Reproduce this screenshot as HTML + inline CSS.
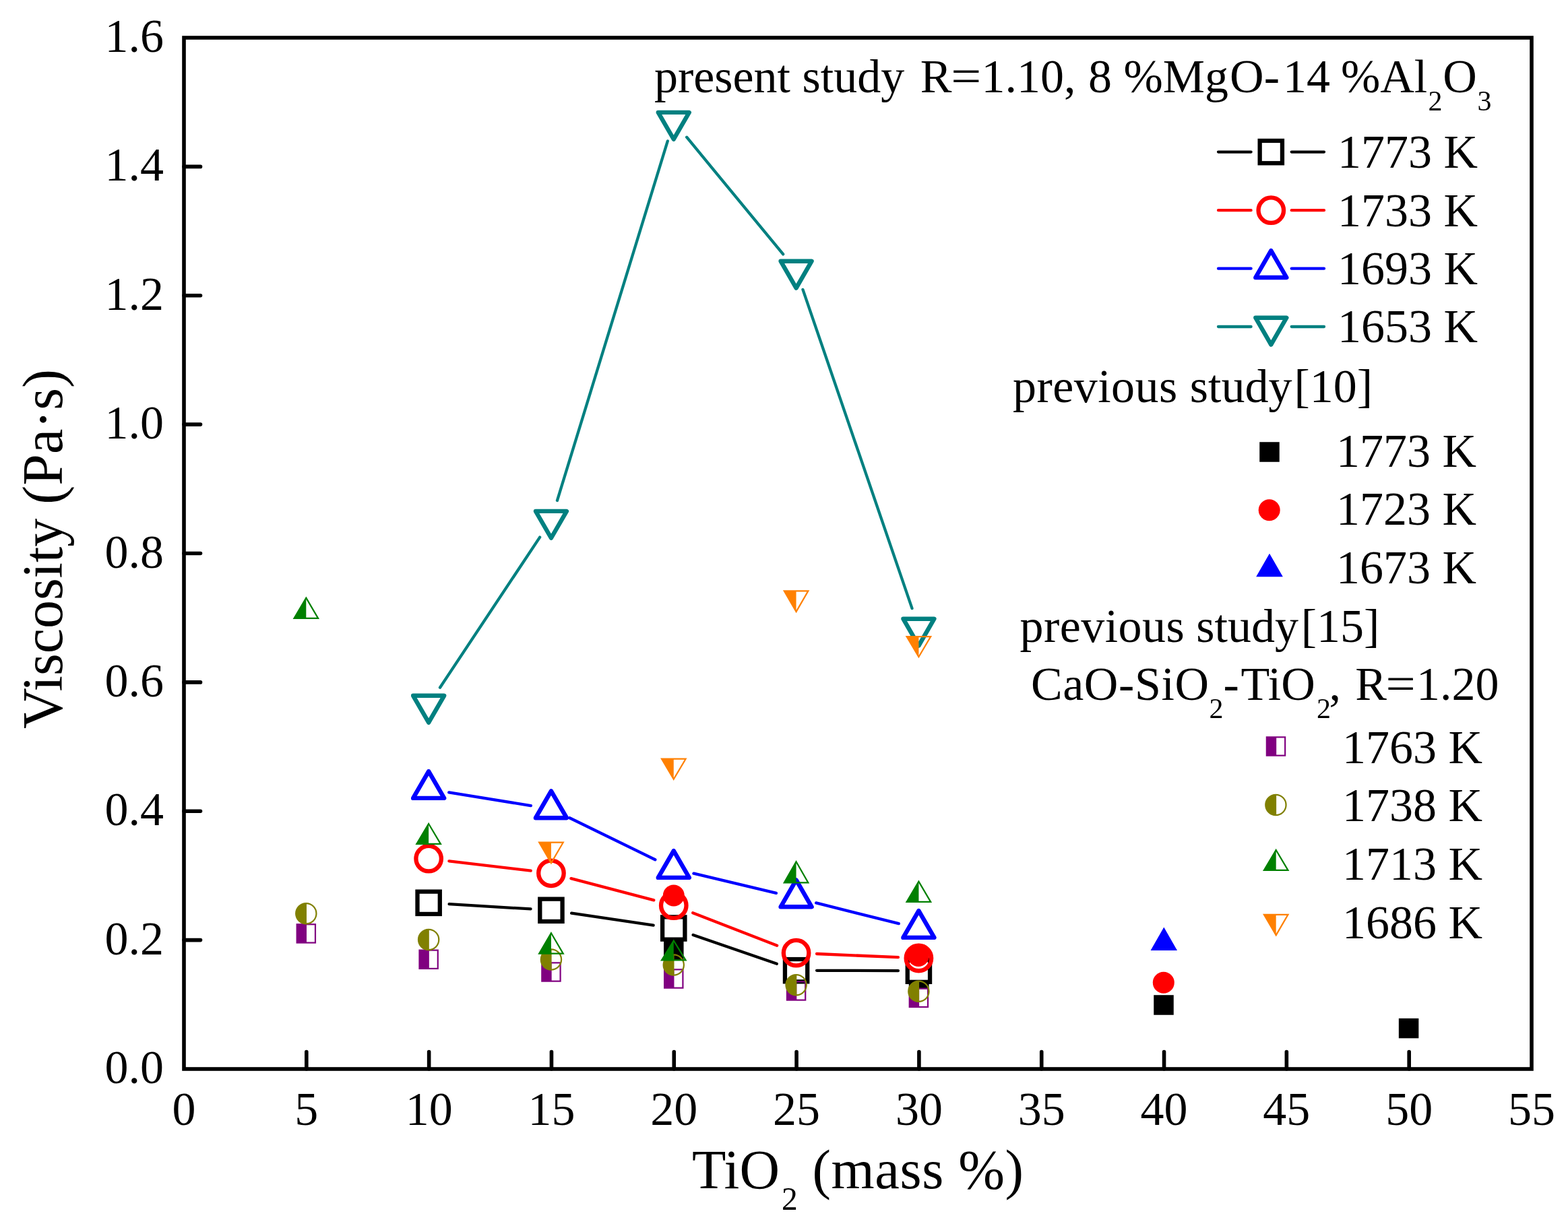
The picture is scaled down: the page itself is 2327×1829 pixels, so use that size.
<!DOCTYPE html><html><head><meta charset="utf-8"><title>Viscosity vs TiO2</title><style>html,body{margin:0;padding:0;background:#fff;overflow:hidden}svg{display:block}</style></head><body><svg width="2327" height="1829" viewBox="0 0 2327 1829" font-family="'Liberation Serif','Times New Roman',serif">
<rect width="2327" height="1829" fill="#ffffff"/>
<path d="M273 1395.62H297.5M273 1204.25H297.5M273 1012.88H297.5M273 821.5H297.5M273 630.12H297.5M273 438.75H297.5M273 247.38H297.5M454.82 1587V1561.5M636.64 1587V1561.5M818.45 1587V1561.5M1000.27 1587V1561.5M1182.09 1587V1561.5M1363.91 1587V1561.5M1545.73 1587V1561.5M1727.55 1587V1561.5M1909.36 1587V1561.5M2091.18 1587V1561.5" stroke="#000" stroke-width="5.6" stroke-linecap="round" fill="none"/>
<g font-size="70" fill="#000"><text x="243" y="1608" text-anchor="end">0.0</text><text x="243" y="1416.62" text-anchor="end">0.2</text><text x="243" y="1225.25" text-anchor="end">0.4</text><text x="243" y="1033.88" text-anchor="end">0.6</text><text x="243" y="842.5" text-anchor="end">0.8</text><text x="243" y="651.12" text-anchor="end">1.0</text><text x="243" y="459.75" text-anchor="end">1.2</text><text x="243" y="268.38" text-anchor="end">1.4</text><text x="243" y="77" text-anchor="end">1.6</text><text x="273" y="1670" text-anchor="middle">0</text><text x="454.82" y="1670" text-anchor="middle">5</text><text x="636.64" y="1670" text-anchor="middle">10</text><text x="818.45" y="1670" text-anchor="middle">15</text><text x="1000.27" y="1670" text-anchor="middle">20</text><text x="1182.09" y="1670" text-anchor="middle">25</text><text x="1363.91" y="1670" text-anchor="middle">30</text><text x="1545.73" y="1670" text-anchor="middle">35</text><text x="1727.55" y="1670" text-anchor="middle">40</text><text x="1909.36" y="1670" text-anchor="middle">45</text><text x="2091.18" y="1670" text-anchor="middle">50</text><text x="2273" y="1670" text-anchor="middle">55</text></g>
<text transform="translate(92.3 1082) rotate(-90)" font-size="84" fill="#000">Viscosity (Pa·s)</text>
<g font-size="82.5" fill="#000"><text x="1027" y="1764">TiO</text><text x="1160" y="1795.6" font-size="47.5">2</text><text x="1205.5" y="1764" letter-spacing="0.6">(mass %)</text></g>
<path d="M666.58 1342.14L787.51 1349.46 M848.13 1355.73L969.6 1373.57 M1028.61 1387.94L1152.76 1430.76 M1212.09 1440.78L1332.91 1441.12" stroke="#000000" stroke-width="4.3" fill="none" stroke-linecap="round"/>
<path d="M666.42 1278.3L787.67 1292.7 M847.45 1304.07L970.28 1336.43 M1028.21 1355.23L1153.15 1403.67 M1212.06 1416.01L1332.94 1421.19" stroke="#ff0000" stroke-width="4.3" fill="none" stroke-linecap="round"/>
<path d="M666.25 1176.45L787.84 1196.05 M845.37 1214.27L972.36 1276.23 M1029.44 1296.68L1151.92 1325.92 M1211.17 1340.42L1333.83 1371.18" stroke="#0000ff" stroke-width="4.3" fill="none" stroke-linecap="round"/>
<path d="M653 1020.69L801.09 797.61 M826.91 743.04L990.82 209.36 M1019.16 203.74L1162.2 377.46 M1191.47 429.86L1353.53 903.14" stroke="#008080" stroke-width="4.3" fill="none" stroke-linecap="round"/>
<rect x="619.49" y="1323.65" width="33.3" height="33.3" fill="none" stroke="#000000" stroke-width="6.3"/><rect x="801.3" y="1334.65" width="33.3" height="33.3" fill="none" stroke="#000000" stroke-width="6.3"/><rect x="983.12" y="1361.35" width="33.3" height="33.3" fill="none" stroke="#000000" stroke-width="6.3"/><rect x="1164.94" y="1424.05" width="33.3" height="33.3" fill="none" stroke="#000000" stroke-width="6.3"/><rect x="1346.76" y="1424.55" width="33.3" height="33.3" fill="none" stroke="#000000" stroke-width="6.3"/>
<circle cx="636.14" cy="1274.7" r="18.75" fill="none" stroke="#ff0000" stroke-width="6.3"/><circle cx="817.95" cy="1296.3" r="18.75" fill="none" stroke="#ff0000" stroke-width="6.3"/><circle cx="999.77" cy="1344.2" r="18.75" fill="none" stroke="#ff0000" stroke-width="6.3"/><circle cx="1181.59" cy="1414.7" r="18.75" fill="none" stroke="#ff0000" stroke-width="6.3"/><circle cx="1363.41" cy="1422.5" r="18.75" fill="none" stroke="#ff0000" stroke-width="6.3"/>
<path d="M636.14 1145.04 L659.14 1184.88 L613.14 1184.88Z" fill="none" stroke="#0000ff" stroke-width="6.4" stroke-linejoin="round"/><path d="M817.95 1174.34 L840.95 1214.18 L794.95 1214.18Z" fill="none" stroke="#0000ff" stroke-width="6.4" stroke-linejoin="round"/><path d="M999.77 1263.04 L1022.77 1302.88 L976.77 1302.88Z" fill="none" stroke="#0000ff" stroke-width="6.4" stroke-linejoin="round"/><path d="M1181.59 1306.44 L1204.59 1346.28 L1158.59 1346.28Z" fill="none" stroke="#0000ff" stroke-width="6.4" stroke-linejoin="round"/><path d="M1363.41 1352.04 L1386.41 1391.88 L1340.41 1391.88Z" fill="none" stroke="#0000ff" stroke-width="6.4" stroke-linejoin="round"/>
<path d="M636.14 1072.66 L659.14 1032.82 L613.14 1032.82Z" fill="none" stroke="#008080" stroke-width="6.4" stroke-linejoin="round"/><path d="M817.95 798.76 L840.95 758.92 L794.95 758.92Z" fill="none" stroke="#008080" stroke-width="6.4" stroke-linejoin="round"/><path d="M999.77 206.76 L1022.77 166.92 L976.77 166.92Z" fill="none" stroke="#008080" stroke-width="6.4" stroke-linejoin="round"/><path d="M1181.59 427.56 L1204.59 387.72 L1158.59 387.72Z" fill="none" stroke="#008080" stroke-width="6.4" stroke-linejoin="round"/><path d="M1363.41 958.56 L1386.41 918.72 L1340.41 918.72Z" fill="none" stroke="#008080" stroke-width="6.4" stroke-linejoin="round"/>
<rect x="985.05" y="1396.25" width="29.5" height="29.5" fill="#000000"/>
<rect x="1348.8" y="1459" width="29.8" height="8.5" fill="#000"/>
<rect x="1712.25" y="1477.25" width="29.5" height="29.5" fill="#000000"/>
<rect x="2075.85" y="1511.85" width="29.5" height="29.5" fill="#000000"/>
<circle cx="999.8" cy="1329.5" r="16" fill="#ff0000"/>
<circle cx="1363" cy="1419" r="16" fill="#ff0000"/>
<circle cx="1726.8" cy="1458.8" r="16" fill="#ff0000"/>
<path d="M1727.3 1376.4 L1747 1411 L1707.6 1411Z" fill="#0000ff"/>
<rect x="440.67" y="1372.25" width="14.35" height="27.3" fill="#800080"/><rect x="440.67" y="1372.25" width="27.3" height="27.3" fill="none" stroke="#800080" stroke-width="2.2"/><rect x="622.49" y="1410.65" width="14.35" height="27.3" fill="#800080"/><rect x="622.49" y="1410.65" width="27.3" height="27.3" fill="none" stroke="#800080" stroke-width="2.2"/><rect x="804.3" y="1429.35" width="14.35" height="27.3" fill="#800080"/><rect x="804.3" y="1429.35" width="27.3" height="27.3" fill="none" stroke="#800080" stroke-width="2.2"/><rect x="986.12" y="1439.35" width="14.35" height="27.3" fill="#800080"/><rect x="986.12" y="1439.35" width="27.3" height="27.3" fill="none" stroke="#800080" stroke-width="2.2"/><rect x="1167.94" y="1457.35" width="14.35" height="27.3" fill="#800080"/><rect x="1167.94" y="1457.35" width="27.3" height="27.3" fill="none" stroke="#800080" stroke-width="2.2"/><rect x="1349.76" y="1467.65" width="14.35" height="27.3" fill="#800080"/><rect x="1349.76" y="1467.65" width="27.3" height="27.3" fill="none" stroke="#800080" stroke-width="2.2"/>
<path d="M455.02 1341.07 A15.15 15.15 0 1 0 455.02 1371.33Z" fill="#808000"/><circle cx="454.32" cy="1356.2" r="15.15" fill="none" stroke="#808000" stroke-width="2.2"/><path d="M636.84 1379.87 A15.15 15.15 0 1 0 636.84 1410.13Z" fill="#808000"/><circle cx="636.14" cy="1395" r="15.15" fill="none" stroke="#808000" stroke-width="2.2"/><path d="M818.65 1409.47 A15.15 15.15 0 1 0 818.65 1439.73Z" fill="#808000"/><circle cx="817.95" cy="1424.6" r="15.15" fill="none" stroke="#808000" stroke-width="2.2"/><path d="M1000.47 1417.47 A15.15 15.15 0 1 0 1000.47 1447.73Z" fill="#808000"/><circle cx="999.77" cy="1432.6" r="15.15" fill="none" stroke="#808000" stroke-width="2.2"/><path d="M1182.29 1447.17 A15.15 15.15 0 1 0 1182.29 1477.43Z" fill="#808000"/><circle cx="1181.59" cy="1462.3" r="15.15" fill="none" stroke="#808000" stroke-width="2.2"/><path d="M1364.11 1456.67 A15.15 15.15 0 1 0 1364.11 1486.93Z" fill="#808000"/><circle cx="1363.41" cy="1471.8" r="15.15" fill="none" stroke="#808000" stroke-width="2.2"/>
<path d="M454.32 887.6 L436.52 917.9 L454.32 917.9Z" fill="#008000"/><path d="M454.32 887.6 L472.11 917.9 L436.52 917.9Z" fill="none" stroke="#008000" stroke-width="2.2"/><path d="M636.14 1223 L618.34 1252.9 L636.14 1252.9Z" fill="#008000"/><path d="M636.14 1223 L653.93 1252.9 L618.34 1252.9Z" fill="none" stroke="#008000" stroke-width="2.2"/><path d="M817.95 1385.2 L800.16 1415.7 L817.95 1415.7Z" fill="#008000"/><path d="M817.95 1385.2 L835.75 1415.7 L800.16 1415.7Z" fill="none" stroke="#008000" stroke-width="2.2"/><path d="M999.77 1396.5 L981.98 1425.3 L999.77 1425.3Z" fill="#008000"/><path d="M999.77 1396.5 L1017.57 1425.3 L981.98 1425.3Z" fill="none" stroke="#008000" stroke-width="2.2"/><path d="M1181.59 1279.3 L1163.8 1310.4 L1181.59 1310.4Z" fill="#008000"/><path d="M1181.59 1279.3 L1199.39 1310.4 L1163.8 1310.4Z" fill="none" stroke="#008000" stroke-width="2.2"/><path d="M1363.41 1308.6 L1345.61 1338.9 L1363.41 1338.9Z" fill="#008000"/><path d="M1363.41 1308.6 L1381.2 1338.9 L1345.61 1338.9Z" fill="none" stroke="#008000" stroke-width="2.2"/>
<path d="M817.95 1281.2 L800.16 1250.7 L817.95 1250.7Z" fill="#ff8000"/><path d="M817.95 1281.2 L835.75 1250.7 L800.16 1250.7Z" fill="none" stroke="#ff8000" stroke-width="2.2"/><path d="M999.77 1156.8 L981.98 1126.7 L999.77 1126.7Z" fill="#ff8000"/><path d="M999.77 1156.8 L1017.57 1126.7 L981.98 1126.7Z" fill="none" stroke="#ff8000" stroke-width="2.2"/><path d="M1181.59 908.1 L1163.8 877.4 L1181.59 877.4Z" fill="#ff8000"/><path d="M1181.59 908.1 L1199.39 877.4 L1163.8 877.4Z" fill="none" stroke="#ff8000" stroke-width="2.2"/><path d="M1363.41 975.2 L1345.61 945.1 L1363.41 945.1Z" fill="#ff8000"/><path d="M1363.41 975.2 L1381.2 945.1 L1345.61 945.1Z" fill="none" stroke="#ff8000" stroke-width="2.2"/>
<rect x="273" y="56" width="2000" height="1531" fill="none" stroke="#000" stroke-width="5.6"/>
<g fill="#000"><text x="970.9" y="136.5" font-size="70">present study</text><text x="1365.7" y="136.5" font-size="70">R</text><text transform="translate(1411.3 136.5) scale(1.142 1)" font-size="70">=</text><text x="1456.5" y="136.5" font-size="70">1.10,</text><text x="1615" y="136.5" font-size="70">8</text><text x="1667.5" y="136.5" font-size="70">%Mg</text><text x="1825.1" y="136.5" font-size="70">O-</text><text x="1904" y="136.5" font-size="70">14</text><text x="1989.9" y="136.5" font-size="70">%Al</text><text x="2119.5" y="163.5" font-size="42">2</text><text x="2141.3" y="136.5" font-size="70">O</text><text x="2192.6" y="163.5" font-size="42">3</text><path d="M1808 225.6H1856.6M1916.7 225.6H1965" stroke="#000000" stroke-width="4.3" stroke-linecap="round"/><rect x="1869.65" y="208.95" width="33.3" height="33.3" fill="none" stroke="#000000" stroke-width="6.3"/><text x="1985" y="249" font-size="70">1773 K</text><path d="M1808 312.2H1856.6M1916.7 312.2H1965" stroke="#ff0000" stroke-width="4.3" stroke-linecap="round"/><circle cx="1886.3" cy="312.2" r="18.75" fill="none" stroke="#ff0000" stroke-width="6.3"/><text x="1985" y="335.6" font-size="70">1733 K</text><path d="M1808 398.7H1856.6M1916.7 398.7H1965" stroke="#0000ff" stroke-width="4.3" stroke-linecap="round"/><path d="M1886.3 372.14 L1909.3 411.98 L1863.3 411.98Z" fill="none" stroke="#0000ff" stroke-width="6.4" stroke-linejoin="round"/><text x="1985" y="422.1" font-size="70">1693 K</text><path d="M1808 485H1856.6M1916.7 485H1965" stroke="#008080" stroke-width="4.3" stroke-linecap="round"/><path d="M1886.3 511.56 L1909.3 471.72 L1863.3 471.72Z" fill="none" stroke="#008080" stroke-width="6.4" stroke-linejoin="round"/><text x="1985" y="508.4" font-size="70">1653 K</text><text x="1503" y="596.8" font-size="70" letter-spacing="0.45">previous</text><text x="1765.8" y="596.8" font-size="70">study</text><text x="1920.5" y="596.8" font-size="70">[10]</text><rect x="1869.25" y="656.25" width="29.5" height="29.5" fill="#000000"/><text x="1983" y="693" font-size="70">1773 K</text><circle cx="1883.7" cy="757.3" r="16" fill="#ff0000"/><text x="1983" y="779.2" font-size="70">1723 K</text><path d="M1884 821.7 L1903.85 856.2 L1864.15 856.2Z" fill="#0000ff"/><text x="1983" y="865.5" font-size="70">1673 K</text><text x="1513.5" y="952.6" font-size="70" letter-spacing="0.45">previous</text><text x="1775.3" y="952.6" font-size="70">study</text><text x="1930.7" y="952.6" font-size="70">[15]</text><text x="1529.9" y="1038.8" font-size="70" letter-spacing="0.6">CaO-SiO</text><text x="1794.5" y="1065.7" font-size="42">2</text><text x="1815.4" y="1038.8" font-size="70">-</text><text x="1841.5" y="1038.8" font-size="70">TiO</text><text x="1954.1" y="1065.7" font-size="42">2</text><text x="1972.5" y="1038.8" font-size="70">,</text><text x="2011.2" y="1038.8" font-size="70">R</text><text transform="translate(2056.6 1038.8) scale(1.12 1)" font-size="70">=</text><text x="2102" y="1038.8" font-size="70">1.20</text><rect x="1879.85" y="1094.35" width="14.35" height="27.3" fill="#800080"/><rect x="1879.85" y="1094.35" width="27.3" height="27.3" fill="none" stroke="#800080" stroke-width="2.2"/><text x="1992" y="1133.4" font-size="70">1763 K</text><path d="M1894.1 1179.87 A15.15 15.15 0 1 0 1894.1 1210.13Z" fill="#808000"/><circle cx="1893.4" cy="1195" r="15.15" fill="none" stroke="#808000" stroke-width="2.2"/><text x="1992" y="1219.4" font-size="70">1738 K</text><path d="M1893.7 1262 L1875.91 1291.9 L1893.7 1291.9Z" fill="#008000"/><path d="M1893.7 1262 L1911.49 1291.9 L1875.91 1291.9Z" fill="none" stroke="#008000" stroke-width="2.2"/><text x="1992" y="1306" font-size="70">1713 K</text><path d="M1893.7 1388.4 L1875.91 1357.8 L1893.7 1357.8Z" fill="#ff8000"/><path d="M1893.7 1388.4 L1911.49 1357.8 L1875.91 1357.8Z" fill="none" stroke="#ff8000" stroke-width="2.2"/><text x="1992" y="1392.6" font-size="70">1686 K</text></g>
</svg></body></html>
